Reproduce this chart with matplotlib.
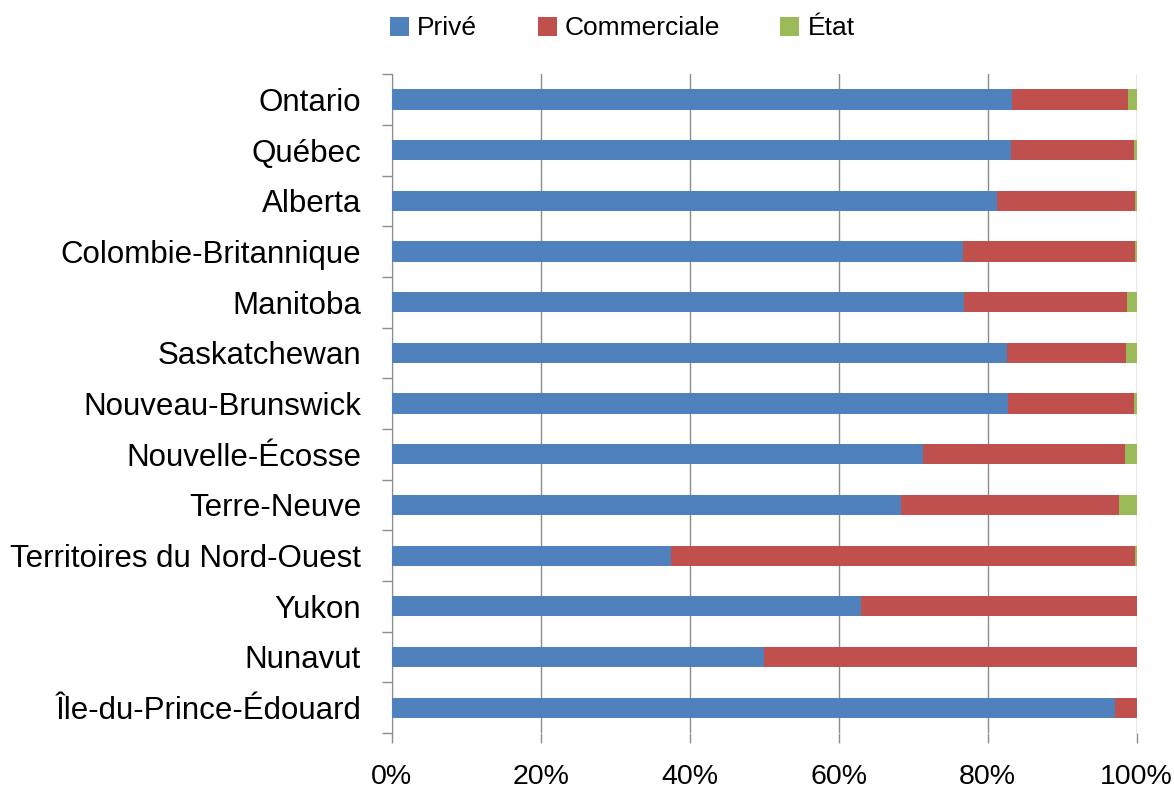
import numpy as np
import matplotlib
matplotlib.use("Agg")
import matplotlib.pyplot as plt
from matplotlib.ticker import PercentFormatter

plt.rcParams["font.family"] = ["Liberation Sans", "DejaVu Sans"]

provinces = ["Ontario", "Québec", "Alberta", "Colombie-Britannique", "Manitoba",
             "Saskatchewan", "Nouveau-Brunswick", "Nouvelle-Écosse", "Terre-Neuve",
             "Territoires du Nord-Ouest", "Yukon", "Nunavut", "Île-du-Prince-Édouard"]
prive = [83.3, 83.2, 81.3, 76.7, 76.8, 82.6, 82.7, 71.3, 68.4, 37.5, 63.0, 50.0, 97.1]
commerciale = [15.5, 16.4, 18.5, 23.1, 21.9, 16.0, 16.9, 27.1, 29.2, 62.3, 37.0, 50.0, 2.9]
etat = [1.2, 0.4, 0.2, 0.2, 1.3, 1.4, 0.4, 1.6, 2.4, 0.2, 0.0, 0.0, 0.0]

series_names = ["Privé", "Commerciale", "État"]
colors = ["#4F81BD", "#C0504D", "#9BBB59"]
grid_col = "#8C8C8C"

fig = plt.figure(figsize=(11.74, 7.88), dpi=100)
ax = fig.add_axes([0.3336, 0.0698, 0.6345, 0.836])

y = np.arange(len(provinces))
left = np.zeros(len(provinces))
for vals, name, col in zip([prive, commerciale, etat], series_names, colors):
    vals = np.array(vals)
    ax.barh(y, vals, left=left, height=0.4, color=col, label=name, zorder=3)
    left += vals

ax.set_xlim(0, 100)
ax.set_ylim(len(provinces) - 0.5, -0.5)
ax.set_yticks(y)
ax.set_yticklabels(provinces, fontsize=22.5)
ax.set_yticks(np.arange(-0.5, len(provinces)), minor=True)
ax.tick_params(axis="y", which="major", length=0, pad=22)
ax.tick_params(axis="y", which="minor", length=7, color=grid_col, width=1)

ax.set_xticks(np.arange(0, 101, 20))
ax.xaxis.set_major_formatter(PercentFormatter(decimals=0))
ax.tick_params(axis="x", which="major", length=7, color=grid_col, width=1,
               labelsize=20.5, pad=15)
ax.grid(axis="x", color=grid_col, lw=1, zorder=0)

for s in ["top", "right", "bottom"]:
    ax.spines[s].set_visible(False)
ax.spines["left"].set_color(grid_col)

fig.legend(loc="center", bbox_to_anchor=(0.53, 0.964), ncol=3, frameon=False,
           fontsize=19, handlelength=0.72, handleheight=0.72, handletextpad=0.3,
           columnspacing=2.3)

fig.savefig("out.png", dpi=100)
